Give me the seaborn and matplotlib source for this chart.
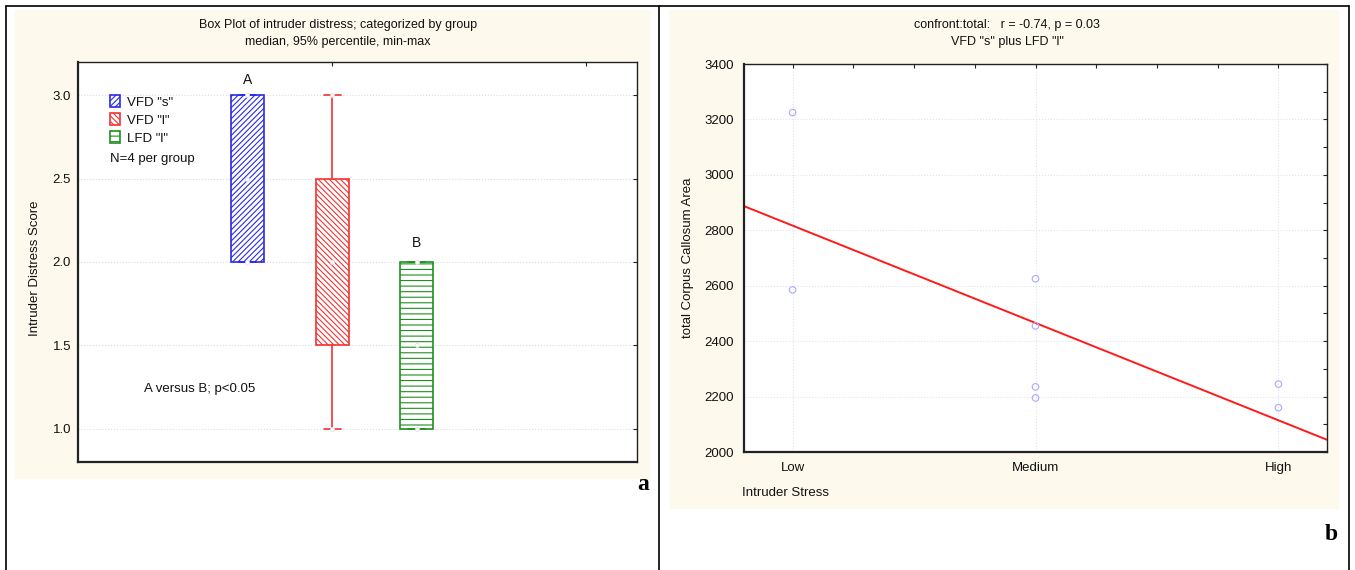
import matplotlib.pyplot as plt
import matplotlib.patches as mpatches
from matplotlib.lines import Line2D
from matplotlib.ticker import MultipleLocator
import seaborn as sns


# Left panel: box summaries (median, percentile box, min-max)
groups = ['VFD "s"', 'VFD "l"', 'LFD "l"']
group_pos = [0, 1, 2]
medians = [2.5, 2.0, 1.5]
box_lo = [2.0, 1.5, 1.0]
box_hi = [3.0, 2.5, 2.0]
min_vals = [2.0, 1.0, 1.0]
max_vals = [3.0, 3.0, 2.0]

# Right panel: corpus callosum area vs intruder stress
stress_labels = ['Low', 'Medium', 'High']
stress_ticks = [1, 2, 3]
stress_level = [1, 1, 2, 2, 2, 2, 3, 3]
cc_area = [3225, 2585, 2625, 2455, 2235, 2195, 2245, 2160]

# Config
W, H, DPI = 1355, 570, 100
BEIGE = '#fdf9ed'
BOX_COLORS = ['#2a2ae6', '#f43232', '#1f8f1f']
HATCHES = ['//////', '\\\\\\\\\\\\', '---']
FONT = ['Liberation Sans', 'DejaVu Sans']

sns.set_style('white')
plt.rcParams['font.family'] = FONT
plt.rcParams['font.size'] = 9
plt.rcParams['text.color'] = '#111111'
plt.rcParams['xtick.color'] = '#222222'
plt.rcParams['ytick.color'] = '#222222'
plt.rcParams['hatch.linewidth'] = 0.8


def fx(x):
    return x / W


def fy(y):
    return 1 - y / H


def px_axes(x0, y0, x1, y1):
    return [fx(x0), fy(y1), (x1 - x0) / W, (y1 - y0) / H]


fig = plt.figure(figsize=(W / DPI, H / DPI), dpi=DPI)
fig.patch.set_facecolor('white')

# beige panel backgrounds
fig.patches.append(mpatches.Rectangle((fx(15), fy(478)), 634 / W, 468 / H,
                                      transform=fig.transFigure, color=BEIGE, zorder=-5))
fig.patches.append(mpatches.Rectangle((fx(670), fy(508)), 668 / W, 498 / H,
                                      transform=fig.transFigure, color=BEIGE, zorder=-5))

# outer frame
for xs, ys in [([6, 6], [6, 570]), ([6, 1349], [6, 6]), ([659, 659], [6, 570]), ([1349, 1349], [6, 570])]:
    fig.add_artist(Line2D([fx(v) for v in xs], [fy(v) for v in ys], color='black', lw=1.2,
                          transform=fig.transFigure))


def style_axes(ax):
    ax.set_facecolor('white')
    for side, sp in ax.spines.items():
        sp.set_visible(True)
        sp.set_color('#222222')
        sp.set_linewidth(1.6 if side in ('left', 'bottom') else 1.0)
    ax.tick_params(which='both', direction='in', top=True, right=True, length=3,
                   width=0.8, color='#222222', labelsize=9.5, labelcolor='#111111')


# ---- Panel a ----
ax1 = fig.add_axes(px_axes(78, 62, 637, 462))
style_axes(ax1)

stats = [dict(med=m, q1=lo, q3=hi, whislo=mn, whishi=mx, fliers=[])
         for m, lo, hi, mn, mx in zip(medians, box_lo, box_hi, min_vals, max_vals)]
bp = ax1.bxp(stats, positions=group_pos, widths=0.39, capwidths=0.2, patch_artist=True,
             showfliers=False, manage_ticks=False)
for i, c in enumerate(BOX_COLORS):
    bp['boxes'][i].set(facecolor='white', edgecolor=c, hatch=HATCHES[i], linewidth=1.2, zorder=3)
    for art in bp['whiskers'][2 * i:2 * i + 2] + bp['caps'][2 * i:2 * i + 2]:
        art.set(color=c, linewidth=1.2, zorder=3)
    bp['medians'][i].set_visible(False)

ax1.scatter(group_pos, medians, s=9, marker='o', facecolor='white', edgecolor='#dddddd',
            linewidth=0.5, zorder=4)
ax1.scatter(group_pos + group_pos, min_vals + max_vals, s=9, marker='o', facecolor='white',
            edgecolor='#dddddd', linewidth=0.5, zorder=4, clip_on=False)

ax1.set_xlim(-2, 4.6)
ax1.set_ylim(0.8, 3.2)
ax1.set_xticks([1, 4])
ax1.set_xticklabels([])
ax1.set_yticks([1.0, 1.5, 2.0, 2.5, 3.0])
ax1.set_yticklabels(['1.0', '1.5', '2.0', '2.5', '3.0'])
ax1.tick_params(axis='y', pad=5)
ax1.yaxis.grid(True, color='#dcdcdc', linestyle=':', linewidth=0.8)
ax1.xaxis.grid(False)
ax1.set_axisbelow(True)

ax1.text(0, 3.09, 'A', ha='center', va='center', fontsize=10)
ax1.text(2, 2.115, 'B', ha='center', va='center', fontsize=10)
ax1.text(-0.56, 1.24, 'A versus B; p<0.05', ha='center', va='center', fontsize=9.5)

handles = [mpatches.Patch(facecolor='white', edgecolor=c, hatch=h, linewidth=1.2)
           for c, h in zip(BOX_COLORS, HATCHES)]
ax1.legend(handles, groups, loc='upper left', bbox_to_anchor=(0.057, 0.917), frameon=False,
           fontsize=9.5, handlelength=0.8, handleheight=1.05, handletextpad=0.5,
           labelspacing=0.32, borderpad=0, borderaxespad=0)
ax1.text(0.057, (462 - 159) / 400, 'N=4 per group', transform=ax1.transAxes,
         ha='left', va='center', fontsize=9.5)

fig.text(fx(338), fy(25), 'Box Plot of intruder distress; categorized by group', ha='center',
         va='center', fontsize=9)
fig.text(fx(338), fy(42), 'median, 95% percentile, min-max', ha='center', va='center', fontsize=9)
fig.text(fx(35), fy(268), 'Intruder Distress Score', rotation=90, ha='center', va='center',
         fontsize=9.5)

# ---- Panel b ----
ax2 = fig.add_axes(px_axes(744, 64, 1327, 452))
style_axes(ax2)
ax2.set_xlim(0.8, 3.2)
ax2.set_ylim(2000, 3400)

sns.regplot(x=stress_level, y=cc_area, ax=ax2, ci=None, truncate=False,
            scatter_kws=dict(s=22, facecolors='none', edgecolors='#a9a9ff', linewidths=0.8,
                             alpha=1, zorder=3),
            line_kws=dict(color='#ff1a1a', linewidth=1.4, zorder=2))

ax2.set_xlim(0.8, 3.2)
ax2.set_ylim(2000, 3400)
ax2.set_xticks(stress_ticks)
ax2.set_xticklabels(stress_labels)
ax2.xaxis.set_minor_locator(MultipleLocator(0.25))
ax2.yaxis.set_major_locator(MultipleLocator(200))
ax2.yaxis.set_minor_locator(MultipleLocator(100))
ax2.tick_params(axis='x', pad=7)
ax2.tick_params(axis='y', pad=7)
ax2.grid(True, which='major', color='#e2e2ee', linestyle=':', linewidth=0.8)
ax2.set_axisbelow(True)
ax2.set_xlabel('')
ax2.set_ylabel('')

fig.text(fx(1007), fy(25), 'confront:total:   r = -0.74, p = 0.03', ha='center', va='center',
         fontsize=9)
fig.text(fx(1007), fy(42), 'VFD "s" plus LFD "l"', ha='center', va='center', fontsize=9)
fig.text(fx(688), fy(258), 'total Corpus Callosum Area', rotation=90, ha='center', va='center',
         fontsize=9.5)
fig.text(fx(742), fy(493), 'Intruder Stress', ha='left', va='center', fontsize=9.5)

# panel letters
fig.text(fx(643), fy(485), 'a', ha='center', va='center', fontsize=17, fontweight='bold',
         color='black', family=['Liberation Serif', 'DejaVu Serif'])
fig.text(fx(1331), fy(534), 'b', ha='center', va='center', fontsize=17, fontweight='bold',
         color='black', family=['Liberation Serif', 'DejaVu Serif'])

plt.savefig('out.png', dpi=DPI)
